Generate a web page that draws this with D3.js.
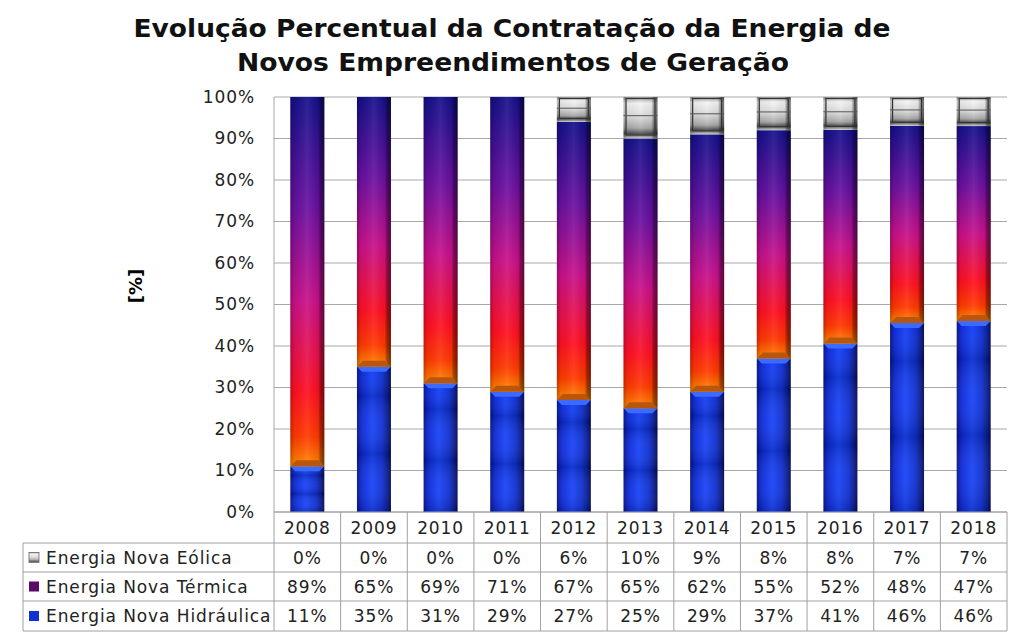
<!DOCTYPE html>
<html><head><meta charset="utf-8">
<script src="https://cdn.jsdelivr.net/npm/d3@7"></script>
<style>body{margin:0;background:#fff}svg{display:block}</style>
</head><body>
<svg id="c" width="1024" height="638"></svg>
<script>
const years = ["2008","2009","2010","2011","2012","2013","2014","2015","2016","2017","2018"];
const eolica = [0,0,0,0,6,10,9,8,8,7,7];
const termica = [89,65,69,71,67,65,62,55,52,48,47];
const hidraulica = [11,35,31,29,27,25,29,37,41,46,46];
const seriesNames = ["Energia Nova Eólica","Energia Nova Térmica","Energia Nova Hidráulica"];
const yTicks = [0,0.1,0.2,0.3,0.4,0.5,0.6,0.7,0.8,0.9,1];

const svg = d3.select("#c");
const FONT = "DejaVu Sans, Verdana, sans-serif";
const LS = 0.9;
const L = 274, R = 1007, T = 97, B = 512;
const x = d3.scaleBand().domain(years).range([L, R]).padding(0);
const y = d3.scaleLinear().domain([0,1]).range([B, T]);

const defs = svg.append("defs");
function grad(id, dir, stops){
  const g = defs.append("linearGradient").attr("id", id)
    .attr("x1",0).attr("y1",0).attr("x2", dir==="h"?1:0).attr("y2", dir==="h"?0:1);
  stops.forEach(s => g.append("stop").attr("offset", s[0]).attr("stop-color", s[1]).attr("stop-opacity", s[2]==null?1:s[2]));
}
grad("hyd","h",[[0,"#06128a"],[0.15,"#0c2ad8"],[0.45,"#1a44f8"],[0.75,"#0f30d0"],[0.9,"#0a1c90"],[1,"#030a50"]]);
grad("ter","v",[[0,"#14108a"],[0.3,"#6a10a0"],[0.55,"#c8108a"],[0.8,"#ff1020"],[0.92,"#ff3a00"],[1,"#ff8a00"]]);
grad("shade","h",[[0,"#000",0.25],[0.12,"#000",0.05],[0.5,"#fff",0.08],[0.82,"#000",0.05],[0.88,"#000",0.35],[1,"#000",0.55]]);
grad("eol","v",[[0,"#9a9a9a"],[0.15,"#f4f4f4"],[0.5,"#d8d8d8"],[0.75,"#a8a8a8"],[0.88,"#505050"],[1,"#cfcfcf"]]);
grad("hband","v",[[0,"#fff",0.0],[0.2,"#000",0.15],[0.4,"#fff",0.05],[0.6,"#000",0.15],[0.8,"#fff",0.05],[1,"#000",0.15]]);

// gridlines
svg.append("g").selectAll("line").data(yTicks).join("line")
  .attr("x1", L).attr("x2", R).attr("y1", d=>y(d)).attr("y2", d=>y(d))
  .attr("stroke", "#a8a8a8").attr("stroke-width", 1);
svg.append("line").attr("x1",L).attr("x2",L).attr("y1",T).attr("y2",B).attr("stroke","#a8a8a8");

// y axis
const yAxis = d3.axisLeft(y).tickValues(yTicks).tickFormat(d3.format(".0%")).tickSize(0).tickPadding(19);
const ga = svg.append("g").attr("transform",`translate(${L},0)`).call(yAxis);
ga.select(".domain").remove();
ga.selectAll("text").attr("font-family", FONT).attr("font-size", 17).attr("letter-spacing", LS).attr("fill","#222");

svg.append("text").attr("transform","translate(142,286) rotate(-90)").attr("text-anchor","middle")
  .attr("font-family", FONT).attr("font-weight","bold").attr("font-size",18).text("[%]");

// title
const title = svg.append("text").attr("text-anchor","middle").attr("font-family","DejaVu Sans, sans-serif")
  .attr("font-weight","bold").attr("font-size",24).attr("fill","#111");
title.append("tspan").attr("x",512).attr("y",37).attr("textLength",757).attr("lengthAdjust","spacingAndGlyphs").text("Evolução Percentual da Contratação da Energia de");
title.append("tspan").attr("x",513).attr("y",71).attr("textLength",552).attr("lengthAdjust","spacingAndGlyphs").text("Novos Empreendimentos de Geração");

// stacked data
const rows = years.map((yr,i)=>{
  const tot = eolica[i]+termica[i]+hidraulica[i];
  return {yr, h: hidraulica[i]/tot, t: termica[i]/tot, e: eolica[i]/tot};
});
const bw = x.bandwidth()*0.51;
const bars = svg.append("g").selectAll("g").data(rows).join("g")
  .attr("transform", d=>`translate(${x(d.yr)+(x.bandwidth()-bw)/2},0)`);

// hydro
bars.append("rect").attr("x",0).attr("width",bw).attr("y",d=>y(d.h)).attr("height",d=>B-y(d.h)).attr("fill","url(#hyd)");
bars.append("rect").attr("x",0).attr("width",bw).attr("y",d=>y(d.h)).attr("height",d=>B-y(d.h)).attr("fill","url(#hband)");
bars.append("path").attr("d",d=>{const t=y(d.h);return `M0,${t}L${bw},${t}L${bw-5},${t+5}L5,${t+5}Z`;}).attr("fill","#3a6aff");
// thermal
bars.append("rect").attr("x",0).attr("width",bw).attr("y",d=>y(d.h+d.t)).attr("height",d=>y(d.h)-y(d.h+d.t)).attr("fill","url(#ter)");
bars.append("rect").attr("x",0).attr("width",bw).attr("y",d=>y(d.h+d.t)).attr("height",d=>y(d.h)-y(d.h+d.t)).attr("fill","url(#shade)");
bars.append("path").attr("d",d=>{const b=y(d.h);return `M0,${b}L${bw},${b}L${bw-6},${b-6}L6,${b-6}Z`;}).attr("fill","#b8560e");
// eolica
const eb = bars.filter(d=>d.e>0);
eb.append("rect").attr("x",0).attr("width",bw).attr("y",d=>y(1)).attr("height",d=>y(d.h+d.t)-y(1)).attr("fill","url(#eol)");
eb.append("rect").attr("x",0).attr("width",bw).attr("y",d=>y(1)).attr("height",d=>y(d.h+d.t)-y(1)).attr("fill","url(#shade)");
eb.append("rect").attr("x",2.5).attr("width",bw-5).attr("y",d=>y(1)+1.5).attr("height",d=>Math.max(0,y(d.h+d.t)-y(1)-5))
  .attr("fill","none").attr("stroke","#333").attr("stroke-width",1.2);
eb.append("line").attr("x1",0).attr("x2",bw).attr("y1",d=>y(1)+(y(d.h+d.t)-y(1))*0.45).attr("y2",d=>y(1)+(y(d.h+d.t)-y(1))*0.45)
  .attr("stroke","#555").attr("stroke-width",1);

// table
const rowTop = [512, 543, 572, 601, 631];
const tx0 = 23;
const tbl = svg.append("g");
const lc = "#a0a0a0";
tbl.append("line").attr("x1",L).attr("x2",R).attr("y1",rowTop[0]).attr("y2",rowTop[0]).attr("stroke",lc);
[1,2,3,4].forEach(k=>tbl.append("line").attr("x1",tx0).attr("x2",R).attr("y1",rowTop[k]).attr("y2",rowTop[k]).attr("stroke",lc));
tbl.append("line").attr("x1",tx0).attr("x2",tx0).attr("y1",rowTop[1]).attr("y2",rowTop[4]).attr("stroke",lc);
tbl.selectAll(".vl").data(years.concat(["end"])).join("line")
  .attr("x1",d=>d==="end"?R:x(d)).attr("x2",d=>d==="end"?R:x(d)).attr("y1",rowTop[0]).attr("y2",rowTop[4]).attr("stroke",lc);
tbl.selectAll(".yr").data(years).join("text").attr("x",d=>x(d)+x.bandwidth()/2).attr("y",(rowTop[0]+rowTop[1])/2+6)
  .attr("text-anchor","middle").attr("font-family",FONT).attr("font-size",17).attr("letter-spacing",LS).attr("fill","#222").text(d=>d);
const tableSeries = [eolica, termica, hidraulica];
const keyFill = ["url(#eol)", "#5a0a6a", "#1030d0"];
tableSeries.forEach((arr,k)=>{
  const cy = (rowTop[k+1]+rowTop[k+2])/2;
  tbl.append("rect").attr("x",29).attr("y",cy-5).attr("width",10).attr("height",10).attr("fill",keyFill[k])
    .attr("stroke", k===0?"#666":"none").attr("stroke-width",0.8);
  tbl.append("text").attr("x",46).attr("y",cy+6).attr("font-family",FONT).attr("font-size",17).attr("letter-spacing",LS).attr("fill","#222").text(seriesNames[k]);
  tbl.selectAll(null).data(arr).join("text").attr("x",(d,i)=>x(years[i])+x.bandwidth()/2).attr("y",cy+6)
    .attr("text-anchor","middle").attr("font-family",FONT).attr("font-size",17).attr("letter-spacing",LS).attr("fill","#222").text(d=>d+"%");
});
</script>
</body></html>
